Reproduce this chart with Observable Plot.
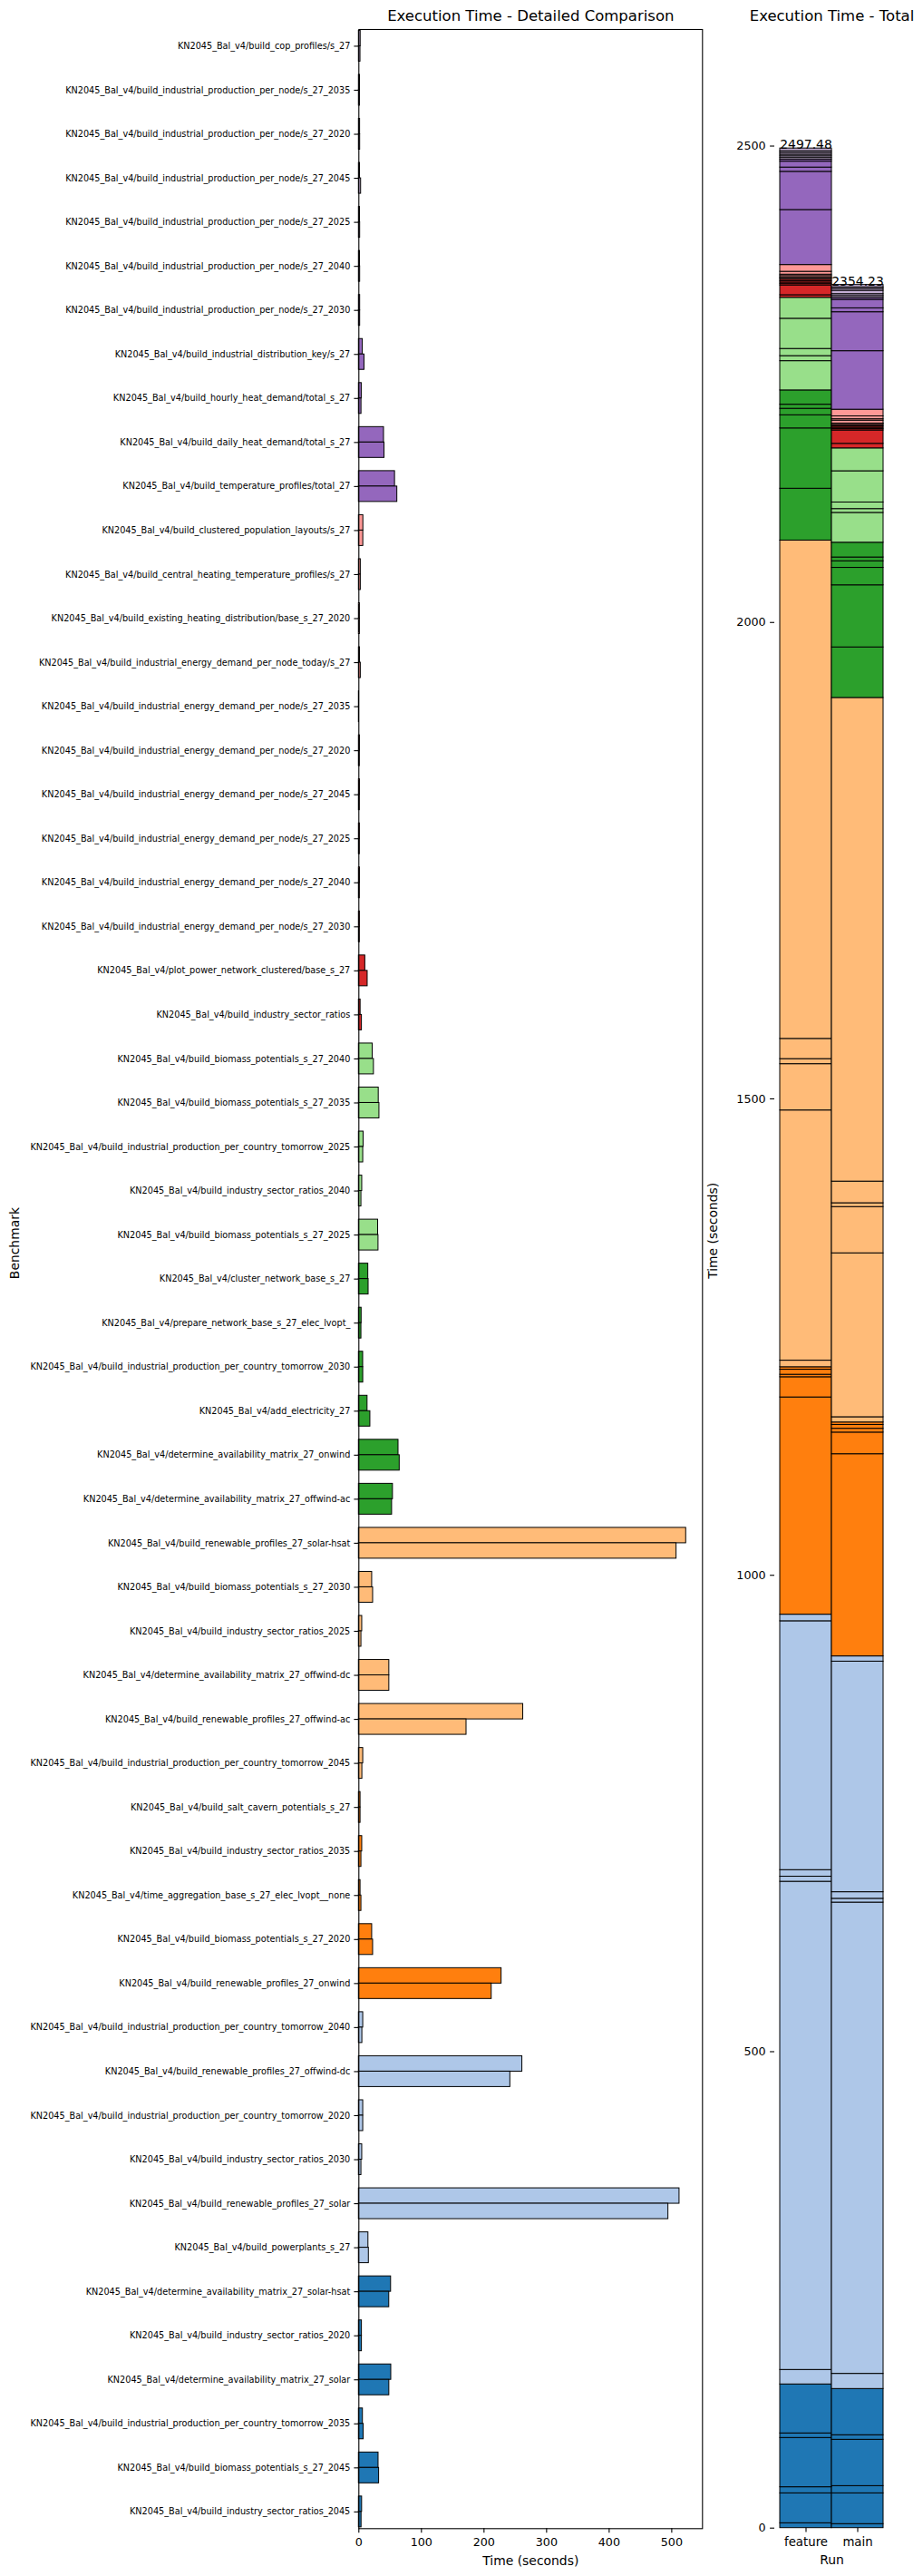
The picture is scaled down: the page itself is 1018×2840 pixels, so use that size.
<!DOCTYPE html>
<html>
<head>
<meta charset="utf-8">
<script src="https://cdn.jsdelivr.net/npm/d3@7"></script>
<script src="https://cdn.jsdelivr.net/npm/@observablehq/plot@0.6"></script>
<style>
  html, body { margin: 0; padding: 0; background: #ffffff; }
  #wrap { position: relative; width: 1018px; height: 2840px; font-family: "DejaVu Sans", sans-serif; color: #000; }
  #left, #right { position: absolute; top: 0; }
  #left { left: 0px; }
  #right { left: 776px; }
  svg { max-width: none !important; overflow: visible; }
</style>
</head>
<body>
<div id="wrap"><div id="left"></div><div id="right"></div></div>
<script>
// ---------------- data (top-to-bottom order as shown in the detailed chart) ----------------
const benchmarks = [
  "KN2045_Bal_v4/build_cop_profiles/s_27",
  "KN2045_Bal_v4/build_industrial_production_per_node/s_27_2035",
  "KN2045_Bal_v4/build_industrial_production_per_node/s_27_2020",
  "KN2045_Bal_v4/build_industrial_production_per_node/s_27_2045",
  "KN2045_Bal_v4/build_industrial_production_per_node/s_27_2025",
  "KN2045_Bal_v4/build_industrial_production_per_node/s_27_2040",
  "KN2045_Bal_v4/build_industrial_production_per_node/s_27_2030",
  "KN2045_Bal_v4/build_industrial_distribution_key/s_27",
  "KN2045_Bal_v4/build_hourly_heat_demand/total_s_27",
  "KN2045_Bal_v4/build_daily_heat_demand/total_s_27",
  "KN2045_Bal_v4/build_temperature_profiles/total_27",
  "KN2045_Bal_v4/build_clustered_population_layouts/s_27",
  "KN2045_Bal_v4/build_central_heating_temperature_profiles/s_27",
  "KN2045_Bal_v4/build_existing_heating_distribution/base_s_27_2020",
  "KN2045_Bal_v4/build_industrial_energy_demand_per_node_today/s_27",
  "KN2045_Bal_v4/build_industrial_energy_demand_per_node/s_27_2035",
  "KN2045_Bal_v4/build_industrial_energy_demand_per_node/s_27_2020",
  "KN2045_Bal_v4/build_industrial_energy_demand_per_node/s_27_2045",
  "KN2045_Bal_v4/build_industrial_energy_demand_per_node/s_27_2025",
  "KN2045_Bal_v4/build_industrial_energy_demand_per_node/s_27_2040",
  "KN2045_Bal_v4/build_industrial_energy_demand_per_node/s_27_2030",
  "KN2045_Bal_v4/plot_power_network_clustered/base_s_27",
  "KN2045_Bal_v4/build_industry_sector_ratios",
  "KN2045_Bal_v4/build_biomass_potentials_s_27_2040",
  "KN2045_Bal_v4/build_biomass_potentials_s_27_2035",
  "KN2045_Bal_v4/build_industrial_production_per_country_tomorrow_2025",
  "KN2045_Bal_v4/build_industry_sector_ratios_2040",
  "KN2045_Bal_v4/build_biomass_potentials_s_27_2025",
  "KN2045_Bal_v4/cluster_network_base_s_27",
  "KN2045_Bal_v4/prepare_network_base_s_27_elec_lvopt_",
  "KN2045_Bal_v4/build_industrial_production_per_country_tomorrow_2030",
  "KN2045_Bal_v4/add_electricity_27",
  "KN2045_Bal_v4/determine_availability_matrix_27_onwind",
  "KN2045_Bal_v4/determine_availability_matrix_27_offwind-ac",
  "KN2045_Bal_v4/build_renewable_profiles_27_solar-hsat",
  "KN2045_Bal_v4/build_biomass_potentials_s_27_2030",
  "KN2045_Bal_v4/build_industry_sector_ratios_2025",
  "KN2045_Bal_v4/determine_availability_matrix_27_offwind-dc",
  "KN2045_Bal_v4/build_renewable_profiles_27_offwind-ac",
  "KN2045_Bal_v4/build_industrial_production_per_country_tomorrow_2045",
  "KN2045_Bal_v4/build_salt_cavern_potentials_s_27",
  "KN2045_Bal_v4/build_industry_sector_ratios_2035",
  "KN2045_Bal_v4/time_aggregation_base_s_27_elec_lvopt__none",
  "KN2045_Bal_v4/build_biomass_potentials_s_27_2020",
  "KN2045_Bal_v4/build_renewable_profiles_27_onwind",
  "KN2045_Bal_v4/build_industrial_production_per_country_tomorrow_2040",
  "KN2045_Bal_v4/build_renewable_profiles_27_offwind-dc",
  "KN2045_Bal_v4/build_industrial_production_per_country_tomorrow_2020",
  "KN2045_Bal_v4/build_industry_sector_ratios_2030",
  "KN2045_Bal_v4/build_renewable_profiles_27_solar",
  "KN2045_Bal_v4/build_powerplants_s_27",
  "KN2045_Bal_v4/determine_availability_matrix_27_solar-hsat",
  "KN2045_Bal_v4/build_industry_sector_ratios_2020",
  "KN2045_Bal_v4/determine_availability_matrix_27_solar",
  "KN2045_Bal_v4/build_industrial_production_per_country_tomorrow_2035",
  "KN2045_Bal_v4/build_biomass_potentials_s_27_2045",
  "KN2045_Bal_v4/build_industry_sector_ratios_2045"
];

// execution time in seconds, run "feature"
const featureTimes = [
  2.8, 1.8, 1.9, 1.7, 1.8, 1.8, 2.0, 6.2, 4.5, 40.1,
  57.7, 7.1, 3.0, 1.5, 1.8, 0.3, 1.6, 1.6, 1.5, 1.6,
  1.5, 10.2, 2.7, 22.0, 31.7, 7.5, 5.3, 30.7, 15.0, 4.3,
  6.8, 13.8, 63.3, 54.4, 523.0, 21.2, 5.3, 48.6, 262.6, 6.9,
  2.6, 5.3, 2.6, 21.2, 228.0, 6.9, 261.2, 6.9, 5.3, 512.38,
  15.2, 51.4, 4.8, 51.7, 6.4, 31.4, 5.1
];

// execution time in seconds, run "main"
const mainTimes = [
  2.5, 1.6, 2.0, 3.5, 2.0, 2.0, 2.0, 8.9, 4.1, 40.9,
  61.4, 7.0, 3.0, 1.5, 3.0, 0.3, 1.4, 1.4, 1.4, 1.4,
  1.4, 14.0, 4.8, 24.0, 32.8, 6.9, 4.0, 31.3, 15.5, 4.0,
  6.9, 18.3, 65.2, 53.03, 507.6, 22.7, 4.0, 48.6, 172.0, 5.5,
  2.6, 4.0, 4.0, 22.7, 212.2, 5.5, 242.0, 6.9, 4.0, 494.6,
  15.9, 48.5, 4.8, 48.6, 7.6, 32.3, 4.2
];

const runs = ["feature", "main"];
const timeTicks = [0, 100, 200, 300, 400, 500];
const totalTicks = [0, 500, 1000, 1500, 2000, 2500];

// ---------------- styling helpers ----------------
const tab20 = ["#1f77b4","#aec7e8","#ff7f0e","#ffbb78","#2ca02c","#98df8a","#d62728","#ff9896",
               "#9467bd","#c5b0d5","#8c564b","#c49c94","#e377c2","#f7b6d2","#7f7f7f","#c7c7c7",
               "#bcbd22","#dbdb8d","#17becf","#9edae5"];
const n = benchmarks.length;
// colours sampled like tab20(linspace(0, 1, 2n)), first n used, index counted from the bottom
const colorOf = i => tab20[Math.min(19, Math.floor((n - 1 - i) / (2 * n - 1) * 20))];

const timesByRun = {feature: featureTimes, main: mainTimes};
const detail = benchmarks.flatMap((b, i) => runs.map((run, j) => ({benchmark: b, i, j, run, time: timesByRun[run][i]})));
// stacked data: bottom segment first
const stacked = [];
for (let i = n - 1; i >= 0; --i) for (const run of runs) stacked.push({benchmark: benchmarks[i], i, run, time: timesByRun[run][i]});
const totals = runs.map(run => ({run, total: d3.sum(timesByRun[run])}));

const BAR = 0.35;
const OUT = 0.38;
const maxTime = d3.max(detail, d => d.time);
const maxTotal = d3.max(totals, d => d.total);

const TICK = 12.7, LABEL = 13.9, TITLE = 16.5;
const baseStyle = {fontFamily: "DejaVu Sans", color: "black", background: "transparent", overflow: "visible"};
const plain = d3.format("d");

// ---------------- left: detailed comparison ----------------
const left = Plot.plot({
  width: 776, height: 2840,
  marginLeft: 395.3, marginRight: 1.7, marginTop: 32, marginBottom: 52.7,
  style: baseStyle,
  x: {domain: [0, maxTime * 1.05]},
  y: {domain: [-OUT, n - 1 + OUT], reverse: true},
  color: {type: "identity"},
  marks: [
    Plot.rect(detail, {
      x1: 0, x2: "time",
      y1: d => d.i - BAR + d.j * BAR, y2: d => d.i + d.j * BAR,
      fill: d => colorOf(d.i), stroke: "black", strokeWidth: 1
    }),
    Plot.frame({stroke: "black", strokeWidth: 1.1}),
    Plot.axisY(d3.range(n), {tickFormat: i => benchmarks[i], fontSize: 9.7, tickSize: 4.9, tickPadding: 4.6, label: null, strokeWidth: 1.1}),
    Plot.axisX(timeTicks, {tickFormat: plain, fontSize: TICK, tickSize: 4.9, tickPadding: 5, label: null, strokeWidth: 1.1}),
    Plot.text(["Benchmark"], {frameAnchor: "left", rotate: -90, dx: -379.3, fontSize: LABEL, lineAnchor: "middle"}),
    Plot.text(["Time (seconds)"], {frameAnchor: "bottom", dy: 35.4, fontSize: LABEL, lineAnchor: "middle"}),
    Plot.text(["Execution Time - Detailed Comparison"], {frameAnchor: "top", dy: -14.7, fontSize: TITLE, lineAnchor: "middle"})
  ]
});
document.getElementById("left").appendChild(left);

// ---------------- right: stacked totals ----------------
const right = Plot.plot({
  width: 242, height: 2840,
  marginLeft: 78, marginRight: 38, marginTop: 32, marginBottom: 53.3,
  style: baseStyle,
  x: {type: "band", domain: runs, paddingInner: 0, paddingOuter: 0.1},
  y: {domain: [0, maxTotal * 1.05]},
  color: {type: "identity"},
  marks: [
    Plot.barY(stacked, {x: "run", y: "time", fill: d => colorOf(d.i), stroke: "black", strokeWidth: 1}),
    Plot.text(totals, {x: "run", y: "total", text: d => d.total.toFixed(2), lineAnchor: "bottom", dy: 0.5, fontSize: LABEL}),
    Plot.axisY(totalTicks, {tickFormat: plain, fontSize: TICK, tickSize: 4.9, tickPadding: 5, label: null, strokeWidth: 1.1}),
    Plot.axisX(runs, {fontSize: TICK + 0.6, tickSize: 4.9, tickPadding: 5, label: null, strokeWidth: 1.1}),
    Plot.text(["Time (seconds)"], {frameAnchor: "left", rotate: -90, dx: -68, fontSize: LABEL, lineAnchor: "middle"}),
    Plot.text(["Run"], {frameAnchor: "bottom", dy: 35.4, fontSize: LABEL, lineAnchor: "middle"}),
    Plot.text(["Execution Time - Total"], {frameAnchor: "top", dy: -14.7, fontSize: TITLE, lineAnchor: "middle"})
  ]
});
document.getElementById("right").appendChild(right);
</script>
</body>
</html>
